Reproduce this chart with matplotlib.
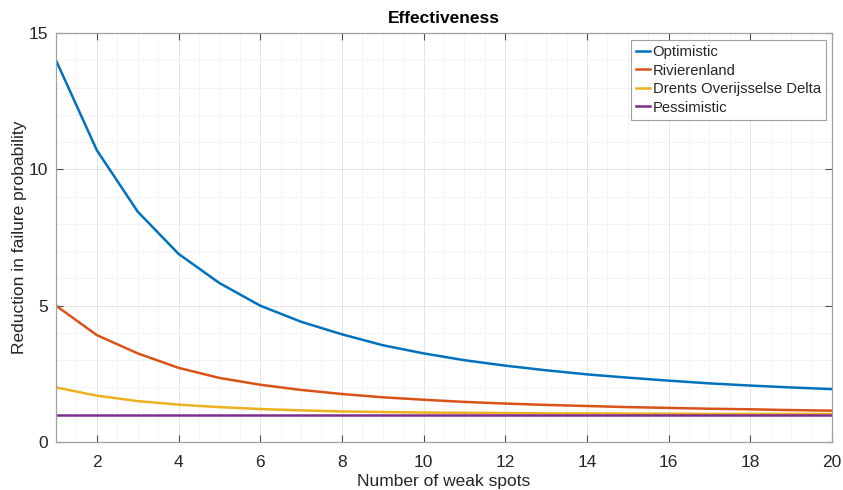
import matplotlib
matplotlib.use("Agg")
import matplotlib.pyplot as plt
from matplotlib.ticker import MultipleLocator

n_spots = list(range(1, 21))

optimistic = [14.0, 10.7, 8.45, 6.9, 5.83, 5.0, 4.41, 3.95, 3.55, 3.25,
              3.0, 2.8, 2.63, 2.48, 2.36, 2.25, 2.15, 2.07, 2.0, 1.94]
rivierenland = [5.0, 3.92, 3.25, 2.72, 2.35, 2.1, 1.91, 1.76, 1.64, 1.55,
                1.47, 1.41, 1.36, 1.32, 1.28, 1.25, 1.22, 1.2, 1.17, 1.15]
drents = [2.0, 1.7, 1.5, 1.37, 1.28, 1.21, 1.16, 1.12, 1.1, 1.08,
          1.07, 1.06, 1.05, 1.05, 1.04, 1.04, 1.03, 1.03, 1.03, 1.03]
pessimistic = [1.0] * 20

series = [
    ("Optimistic", optimistic, "#0072BD"),
    ("Rivierenland", rivierenland, "#D95319"),
    ("Drents Overijsselse Delta", drents, "#EDB120"),
    ("Pessimistic", pessimistic, "#7E2F8E"),
]

plt.rcParams["font.family"] = ["Liberation Sans", "DejaVu Sans"]

fig = plt.figure(figsize=(8.43, 4.90), dpi=100)
ax = fig.add_axes([56 / 843, 1 - 442 / 490, (832 - 56) / 843, (442 - 33) / 490])

for label, vals, color in series:
    ax.plot(n_spots, vals, color=color, lw=1.8, label=label)

ax.set_xlim(1, 20)
ax.set_ylim(0, 15)
ax.xaxis.set_major_locator(MultipleLocator(2))
ax.yaxis.set_major_locator(MultipleLocator(5))
ax.xaxis.set_minor_locator(MultipleLocator(0.5))
ax.yaxis.set_minor_locator(MultipleLocator(1))

ax.grid(which="major", color="#e0e0e0", lw=0.6)
ax.grid(which="minor", color="#f0f0f0", lw=0.5)
ax.set_axisbelow(True)

ax.tick_params(which="both", direction="in", top=True, right=True,
               colors="#4d4d4d", labelsize=12.5, labelcolor="#262626")
ax.tick_params(which="major", length=5)
ax.tick_params(axis="x", which="major", pad=9)
ax.tick_params(axis="y", which="major", pad=6)
ax.tick_params(which="minor", length=0)
for sp in ax.spines.values():
    sp.set_color("#a0a0a0")
    sp.set_linewidth(0.9)

ax.set_title("Effectiveness", fontsize=12.5, fontweight="bold", pad=7)
ax.set_xlabel("Number of weak spots", fontsize=12.5, color="#262626", va="center")
ax.xaxis.set_label_coords(0.5, (442 - 481) / 409)
ax.set_ylabel("Reduction in failure probability", fontsize=12.5, color="#262626", va="center")
ax.yaxis.set_label_coords((20 - 56) / 776, 0.5)

leg = ax.legend(loc="upper right", bbox_to_anchor=((826 - 56) / 776, (442 - 40) / 409),
                borderaxespad=0, fontsize=10.7,
                handlelength=0.95, handletextpad=0.15, borderpad=0.35,
                labelspacing=0.3, fancybox=False, framealpha=1,
                edgecolor="#a0a0a0")
leg.get_frame().set_linewidth(0.8)
for t in leg.get_texts():
    t.set_color("#262626")

fig.savefig("out.png", dpi=100)
